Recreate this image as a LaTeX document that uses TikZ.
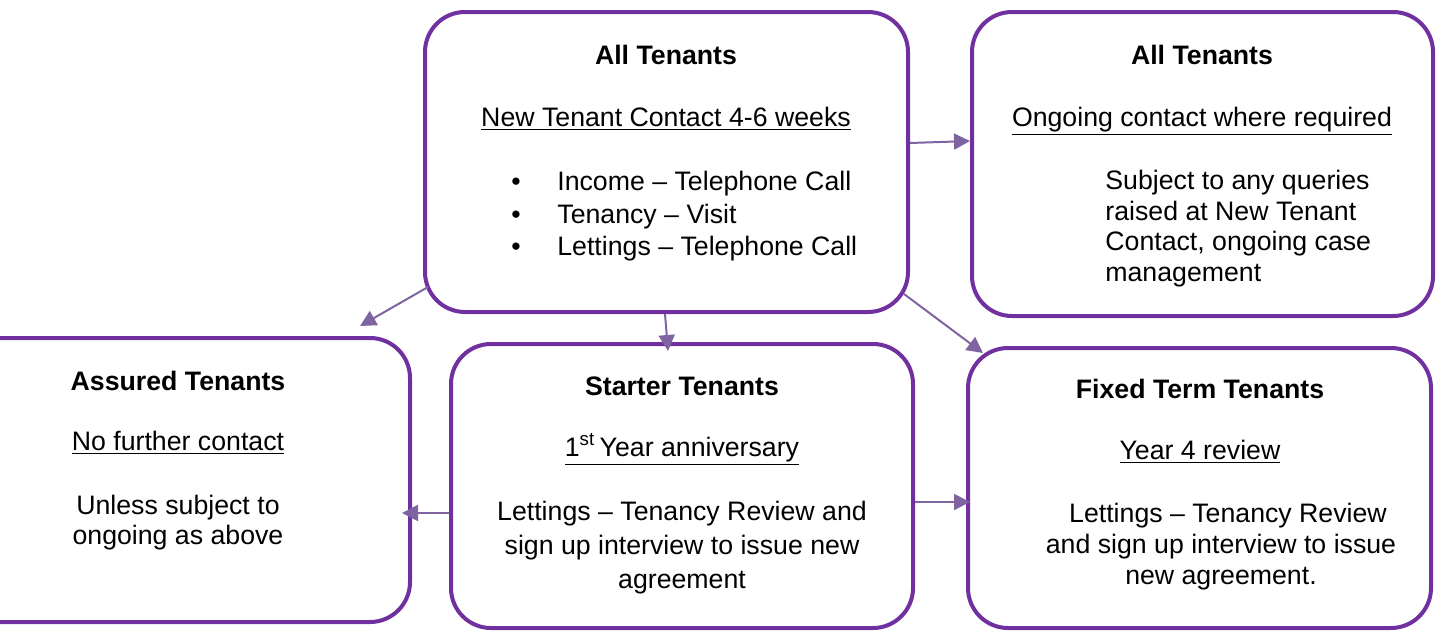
\documentclass[tikz,border=0pt]{standalone}
\usepackage{fontspec}
\setmainfont{Liberation Sans}
\usetikzlibrary{calc,arrows.meta}
\definecolor{boxpurple}{HTML}{7030A0}
\definecolor{arrowpurple}{HTML}{8064A2}
\begin{document}
\begin{tikzpicture}[x=0.5pt,y=-0.5pt,
  box/.style={draw=boxpurple,line width=2pt,rounded corners=20pt,inner sep=0pt},
  conn/.style={draw=arrowpurple,line width=1pt,-{Triangle[length=8pt,width=8pt]}},
  txt/.style={inner sep=0pt,text=black,font=\fontsize{13.35}{16}\selectfont},
  sub/.style={txt,anchor=base},
  ttl/.style={inner sep=0pt,text=black,font=\fontsize{13.35}{16}\selectfont\bfseries}]
\useasboundingbox (0,0) rectangle (1437,632);
% boxes
\node[box,minimum width=241.5pt,minimum height=150pt] (A) at (666.5,162) {};
\node[box,minimum width=230.5pt,minimum height=152pt] (B) at (1202.5,164) {};
\node[box,minimum width=231pt,minimum height=142pt] (C) at (179,480) {};
\node[box,minimum width=231pt,minimum height=142pt] (D) at (682,486) {};
\node[box,minimum width=231.5pt,minimum height=140pt] (E) at (1199.5,488) {};
% box A text
\node[ttl] (At) at (666,55) {All Tenants};
\node[sub] (As) at (666,126) {\underline{New Tenant Contact 4-6 weeks}};
\node[txt,anchor=west,align=left,font=\fontsize{13.35}{16.25}\selectfont] (Ab) at (511,216.5)
  {\makebox[23pt][l]{\textbullet}Income – Telephone Call\\
   \makebox[23pt][l]{\textbullet}Tenancy – Visit\\
   \makebox[23pt][l]{\textbullet}Lettings – Telephone Call};
% box B text
\node[ttl] (Bt) at (1202,55) {All Tenants};
\node[sub] (Bs) at (1202,126) {\underline{Ongoing contact where required}};
\node[txt,anchor=west,align=left,font=\fontsize{13.35}{15.2}\selectfont] (Bp) at (1105,228.5)
  {Subject to any queries\\raised at New Tenant\\Contact, ongoing case\\management};
% box C text
\node[ttl] (Ct) at (178,381) {Assured Tenants};
\node[sub] (Cs) at (178,450) {\underline{No further contact}};
\node[txt,align=center,font=\fontsize{13.35}{15}\selectfont] (Cp) at (178,523)
  {Unless subject to\\ongoing as above};
% box D text
\node[ttl] (Dt) at (682,386) {Starter Tenants};
\node[sub] (Ds) at (682,456) {\underline{1\textsuperscript{st}\,Year anniversary}};
\node[txt,align=center,font=\fontsize{13.35}{17}\selectfont] (Dp) at (682,548)
  {Lettings – Tenancy Review and\\sign up interview to issue new\\agreement};
% box E text
\node[ttl] (Et) at (1200,389) {Fixed Term Tenants};
\node[sub] (Es) at (1200,459) {\underline{Year 4 review}};
\node[txt,align=center,font=\fontsize{13.35}{15.5}\selectfont] (Ep) at (1221,547)
  {\hspace*{7pt}Lettings – Tenancy Review\\and sign up interview to issue\\new agreement.};
% connectors
\draw[conn] ($(A.south west)+(5,-27)$) -- ($(C.north east)+(-52,-10)$);
\draw[conn] ($(A.east)+(0,-19)$) -- ($(B.west)+(0,-23)$);
\draw[conn] ($(A.south)+(-1.5,0)$) -- ($(D.north)+(-14,9)$);
\draw[conn] ($(A.south east)+(-6,-20)$) -- ($(E.north west)+(17,7)$);
\draw[conn] ($(D.west)+(0,27)$) -- ($(C.east)+(-10,33)$);
\draw[conn] ($(D.east)+(0,16)$) -- ($(E.west)+(4,14)$);
\end{tikzpicture}
\end{document}
